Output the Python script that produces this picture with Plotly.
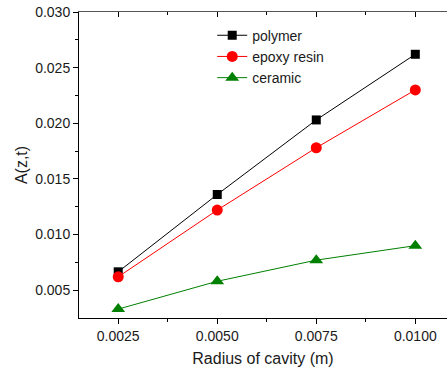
import plotly.graph_objects as go

radius = [0.0025, 0.0050, 0.0075, 0.0100]
polymer = [0.00665, 0.0136, 0.0203, 0.0262]
epoxy = [0.0062, 0.0122, 0.0178, 0.0230]
ceramic = [0.0033, 0.0058, 0.0077, 0.0090]

y_ticks = [0.005, 0.010, 0.015, 0.020, 0.025, 0.030]
x_ticks = [0.0025, 0.0050, 0.0075, 0.0100]

font = "Liberation Sans, Arial, sans-serif"

fig = go.Figure()
fig.add_trace(go.Scatter(x=radius, y=polymer, name="polymer", mode="lines+markers",
                         line=dict(color="black", width=1),
                         marker=dict(symbol="square", size=9, color="black")))
fig.add_trace(go.Scatter(x=radius, y=epoxy, name="epoxy resin", mode="lines+markers",
                         line=dict(color="red", width=1),
                         marker=dict(symbol="circle", size=11, color="red")))
fig.add_trace(go.Scatter(x=radius, y=ceramic, name="ceramic", mode="lines+markers",
                         line=dict(color="#008000", width=1),
                         marker=dict(symbol="triangle-up", size=12, color="#008000")))
# invisible trace for top axis
fig.add_trace(go.Scatter(x=[radius[0]], y=[polymer[0]], xaxis="x2", mode="markers",
                         marker=dict(opacity=0), showlegend=False, hoverinfo="skip"))

xr = [0.00151, 0.0108]
fig.update_layout(
    width=447, height=371,
    margin=dict(l=79, r=0, t=12, b=53),
    paper_bgcolor="white", plot_bgcolor="white",
    font=dict(family=font, size=14, color="#1a1a1a"),
    showlegend=True,
    legend=dict(x=0.362, y=0.975, xanchor="left", yanchor="top",
                bgcolor="rgba(0,0,0,0)", font=dict(size=14, color="#1a1a1a"),
                tracegroupgap=0, itemsizing="trace"),
    xaxis=dict(range=xr, tickvals=x_ticks, ticktext=["0.0025", "0.0050", "0.0075", "0.0100"],
               ticks="outside", ticklen=5, tickcolor="black", showline=True, linecolor="black",
               linewidth=1, showgrid=False, zeroline=False, tickfont=dict(size=14),
               minor=dict(tickvals=[0.00375, 0.00625, 0.00875], ticks="outside", ticklen=3, tickcolor="black"),
               title=dict(text="Radius of cavity (m)", font=dict(size=16, color="#1a1a1a"), standoff=10)),
    xaxis2=dict(range=xr, overlaying="x", side="top", tickvals=x_ticks, showticklabels=False,
                ticks="inside", ticklen=5, tickcolor="black", showline=True, linecolor="#555",
                linewidth=1, showgrid=False, zeroline=False,
                minor=dict(tickvals=[0.00375, 0.00625, 0.00875], ticks="inside", ticklen=3, tickcolor="black")),
    yaxis=dict(range=[0.0025, 0.030], tickvals=y_ticks, ticktext=["0.005", "0.010", "0.015", "0.020", "0.025", "0.030"],
               ticks="outside", ticklen=5, tickcolor="black", showline=True, linecolor="black",
               linewidth=1, showgrid=False, zeroline=False, tickfont=dict(size=14),
               minor=dict(tickvals=[0.0075, 0.0125, 0.0175, 0.0225, 0.0275], ticks="outside", ticklen=3, tickcolor="black"),
               title=dict(text="A(z,t)", font=dict(size=16, color="#1a1a1a"), standoff=3)),
)

fig.write_html("out.html")
